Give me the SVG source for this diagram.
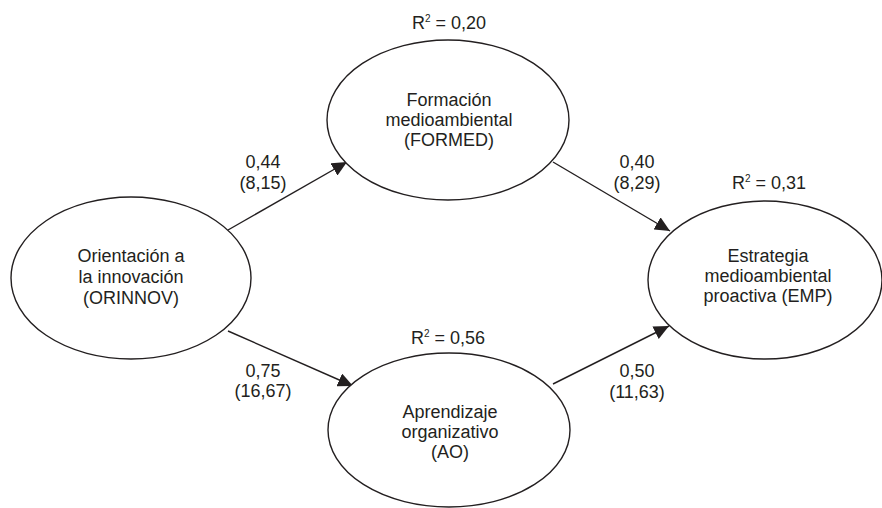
<svg xmlns="http://www.w3.org/2000/svg" width="882" height="508" viewBox="0 0 882 508">
<style>
  .node ellipse { fill: #ffffff; stroke: #231f20; stroke-width: 1.4; }
  text { font-family: "Liberation Sans", Arial, sans-serif; font-size: 18px; fill: #231f20; text-anchor: middle; }
  .edge { stroke: #231f20; stroke-width: 1.4; fill: none; marker-end: url(#arrow); }
  .sup { font-size: 10px; }
</style>
<defs>
  <marker id="arrow" markerUnits="userSpaceOnUse" markerWidth="16" markerHeight="14" refX="15" refY="7" orient="auto">
    <path d="M0,0 L15,7 L0,14 Z" fill="#231f20"/>
  </marker>
</defs>
<rect width="882" height="508" fill="#ffffff"/>
<g id="connectors">
  <line class="edge" x1="228" y1="230" x2="347" y2="162"/>
  <line class="edge" x1="553" y1="162" x2="670" y2="231"/>
  <line class="edge" x1="228" y1="331" x2="353" y2="386"/>
  <line class="edge" x1="553" y1="384" x2="669" y2="326"/>
  <text x="263" y="168">0,44</text>
  <text x="263" y="189">(8,15)</text>
  <text x="637" y="168">0,40</text>
  <text x="637" y="189">(8,29)</text>
  <text x="263" y="377">0,75</text>
  <text x="263" y="397">(16,67)</text>
  <text x="637" y="377">0,50</text>
  <text x="637" y="398">(11,63)</text>
</g>
<g id="ORINNOV" class="node">
  <ellipse cx="131" cy="278" rx="120" ry="81"/>
  <text x="131" y="262">Orientación a</text>
  <text x="131" y="283">la innovación</text>
  <text x="131" y="304">(ORINNOV)</text>
</g>
<g id="FORMED" class="node">
  <ellipse cx="448" cy="120" rx="121" ry="80"/>
  <text x="449" y="106">Formación</text>
  <text x="449" y="126">medioambiental</text>
  <text x="449" y="146">(FORMED)</text>
  <text x="449" y="29">R<tspan class="sup" dy="-7">2</tspan><tspan dy="7"> = 0,20</tspan></text>
</g>
<g id="AO" class="node">
  <ellipse cx="449" cy="430" rx="121" ry="77"/>
  <text x="450" y="418">Aprendizaje</text>
  <text x="450" y="438">organizativo</text>
  <text x="450" y="458">(AO)</text>
  <text x="448" y="344">R<tspan class="sup" dy="-7">2</tspan><tspan dy="7"> = 0,56</tspan></text>
</g>
<g id="EMP" class="node">
  <ellipse cx="765" cy="280" rx="117" ry="79"/>
  <text x="768" y="262">Estrategia</text>
  <text x="768" y="282">medioambiental</text>
  <text x="768" y="302">proactiva (EMP)</text>
  <text x="769" y="189">R<tspan class="sup" dy="-7">2</tspan><tspan dy="7"> = 0,31</tspan></text>
</g>
</svg>
